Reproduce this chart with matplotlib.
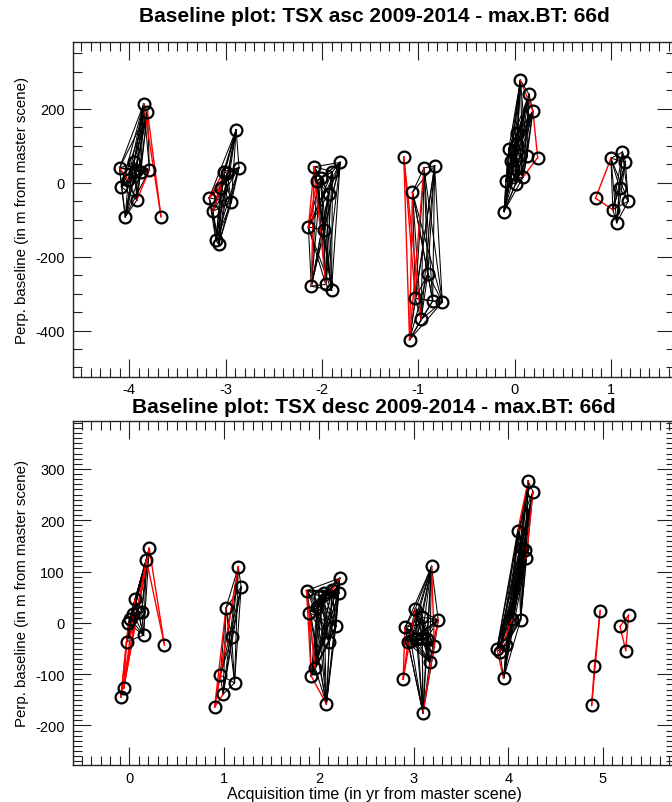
import matplotlib
matplotlib.use("Agg")
import matplotlib.pyplot as plt
import numpy as np
from matplotlib.ticker import MultipleLocator

plt.rcParams["font.family"] = ["Liberation Sans", "DejaVu Sans"]
plt.rcParams["axes.unicode_minus"] = False

# ascending track: acquisition time (yr from master) and perp. baseline (m)
asc_t = [-4.10, -4.08, -4.04, -4.01, -3.95, -3.92, -3.88, -3.85, -3.81, -3.79, -3.67, -3.93,
         -3.17, -3.13, -3.10, -3.07, -3.05, -3.02, -2.94, -2.89, -2.86, -2.98,
         -2.14, -2.11, -2.08, -2.05, -2.01, -1.98, -1.96, -1.93, -1.90, -1.89, -1.81,
         -1.15, -1.09, -1.06, -1.03, -0.97, -0.94, -0.90, -0.85, -0.83, -0.75,
         -0.11, -0.09, -0.06, -0.02, 0.01, 0.03, 0.06, 0.09, 0.13, 0.15, 0.19, 0.24, 0.02, -0.04,
         0.84, 1.00, 1.02, 1.06, 1.09, 1.12, 1.15, 1.18]
asc_b = [40, -11, -92, 7, 55, -47, 28, 213, 192, 35, -92, 33,
         -41, -77, -156, -167, -13, 30, -53, 143, 41, 25,
         -120, -280, 43, 5, 14, -127, -275, -30, -291, 30, 55,
         70, -425, -26, -313, -370, 40, -246, -320, 46, -323,
         -78, 5, 91, 41, -4, 135, 277, 16, 71, 239, 194, 68, 105, 60,
         -42, 66, -73, -108, -14, 83, 57, -50]
# season group of each scene (black links inside a group, -1 = red links only)
asc_group = [0, 0, 0, 0, 0, 0, 0, 0, 0, 0, -1, 0,
             1, 1, 1, 1, 1, 1, 1, 1, 1, 1,
             2, 2, 2, 2, 2, 2, 2, 2, 2, 2, 2,
             -1, 3, 3, 3, 3, 3, 3, 3, 3, 3,
             4, 4, 4, 4, 4, 4, 4, 4, 4, 4, 4, -1, 4, 4,
             -1, 5, 5, 5, 5, 5, 5, 5]
asc_red = [(7, 10), (8, 10), (0, 3), (5, 9),
           (12, 16), (13, 17), (13, 16), (12, 17),
           (23, 24), (22, 24), (24, 28), (22, 25),
           (33, 34), (34, 35), (33, 36), (34, 38), (33, 37),
           (49, 53), (53, 54), (50, 54),
           (57, 58), (57, 59)]

# descending track
desc_t = [-0.09, -0.06, -0.03, -0.01, 0.01, 0.04, 0.06, 0.09, 0.13, 0.15, 0.18, 0.21, 0.37,
          0.90, 0.96, 0.99, 1.02, 1.08, 1.11, 1.15, 1.18,
          1.87, 1.90, 1.92, 1.96, 1.98, 2.01, 2.05, 2.08, 2.11, 2.14, 2.18, 2.21, 2.22,
          2.89, 2.91, 2.94, 2.97, 3.02, 3.03, 3.09, 3.09, 3.10, 3.14, 3.17, 3.19, 3.22, 3.26,
          3.88, 3.91, 3.95, 3.98, 4.04, 4.10, 4.13, 4.14, 4.18, 4.19, 4.21, 4.26,
          4.88, 4.91, 4.97, 5.18, 5.24, 5.27]
desc_b = [-145, -127, -37, -1, 8, 18, 46, 22, 22, -24, 123, 145, -43,
          -164, -102, -139, 29, -28, -117, 109, 70,
          63, 20, -104, -87, 30, 52, 59, -158, -37, 64, -7, 58, 87,
          -110, -9, -38, -35, 28, -31, 11, -29, -176, -31, -77, 110, -46, 6,
          -51, -56, -108, -43, 7, 180, 6, 145, 142, 126, 276, 256,
          -161, -84, 24, -7, -54, 15]
desc_group = [-1, -1, 0, 0, 0, 0, 0, 0, 0, 0, 0, 0, -1,
              -1, 1, 1, 1, 1, 1, 1, 1,
              2, 2, 2, 2, 2, 2, 2, 2, 2, 2, 2, 2, 2,
              -1, 3, 3, 3, 3, 3, 3, 3, 3, 3, 3, 3, 3, 3,
              4, 4, 4, 4, 4, 4, 4, 4, 4, 4, 4, 4,
              -1, -1, -1, -1, -1, -1]
desc_red = [(0, 10), (1, 10), (1, 11), (0, 11), (0, 3), (1, 6), (0, 2), (1, 2), (11, 12), (10, 12),
            (13, 19), (14, 19), (13, 16), (13, 14), (13, 15),
            (21, 23), (22, 24), (23, 28), (30, 33), (21, 24),
            (34, 38), (34, 36), (34, 35), (45, 46), (42, 47),
            (53, 58), (57, 59), (48, 50), (49, 52),
            (60, 61), (61, 62), (60, 62), (63, 64), (64, 65), (63, 65)]

fig = plt.figure(figsize=(6.72, 8.03), dpi=100)


def panel(rect, t, b, group, red, xlim, ylim, ymaj, ymin, title, title_y):
    ax = fig.add_axes(rect)
    red = set(red)
    for i in range(len(t)):
        for j in range(i + 1, len(t)):
            if group[i] >= 0 and group[i] == group[j] and (i, j) not in red:
                ax.plot([t[i], t[j]], [b[i], b[j]], color="black", lw=0.75, zorder=2)
    for i, j in red:
        ax.plot([t[i], t[j]], [b[i], b[j]], color="red", lw=1.0, zorder=3)
    ax.plot(t, b, "o", mfc="none", mec="black", ms=8.5, mew=1.6, zorder=4)

    ax.set_xlim(xlim)
    ax.set_ylim(ylim)
    ax.xaxis.set_major_locator(MultipleLocator(1))
    ax.xaxis.set_minor_locator(MultipleLocator(0.1))
    ax.yaxis.set_major_locator(MultipleLocator(ymaj))
    ax.yaxis.set_minor_locator(MultipleLocator(ymin))
    ax.tick_params(which="both", direction="in", top=True, right=True, width=0.8,
                   labelsize=10.5, color="#222222")
    ax.tick_params(which="major", length=13)
    ax.tick_params(which="minor", length=6.5)
    ax.tick_params(axis="x", pad=4)
    ax.tick_params(axis="y", pad=6)
    for s in ax.spines.values():
        s.set_linewidth(1.0)
        s.set_color("#222222")
    ax.set_ylabel("Perp. baseline (in m from master scene)", fontsize=10.8, labelpad=5)
    fig.text(374 / 672, title_y, title, ha="center", va="center",
             fontsize=15, fontweight="bold")
    return ax


ax1 = panel([73.3 / 672, 1 - 377.7 / 803, (675 - 73.3) / 672, (377.7 - 43.3) / 803],
            asc_t, asc_b, asc_group, asc_red, (-4.58, 1.665), (-525, 380), 200, 50,
            "Baseline plot: TSX asc 2009-2014 - max.BT: 66d", 1 - 17 / 803)
ax2 = panel([73.3 / 672, 1 - 766 / 803, (675 - 73.3) / 672, (766 - 421.7) / 803],
            desc_t, desc_b, desc_group, desc_red, (-0.592, 5.76), (-277, 394), 100, 10,
            "Baseline plot: TSX desc 2009-2014 - max.BT: 66d", 1 - 408 / 803)
ax2.set_xlabel("Acquisition time (in yr from master scene)", fontsize=11.5, labelpad=1)

plt.savefig("out.png", dpi=100)
